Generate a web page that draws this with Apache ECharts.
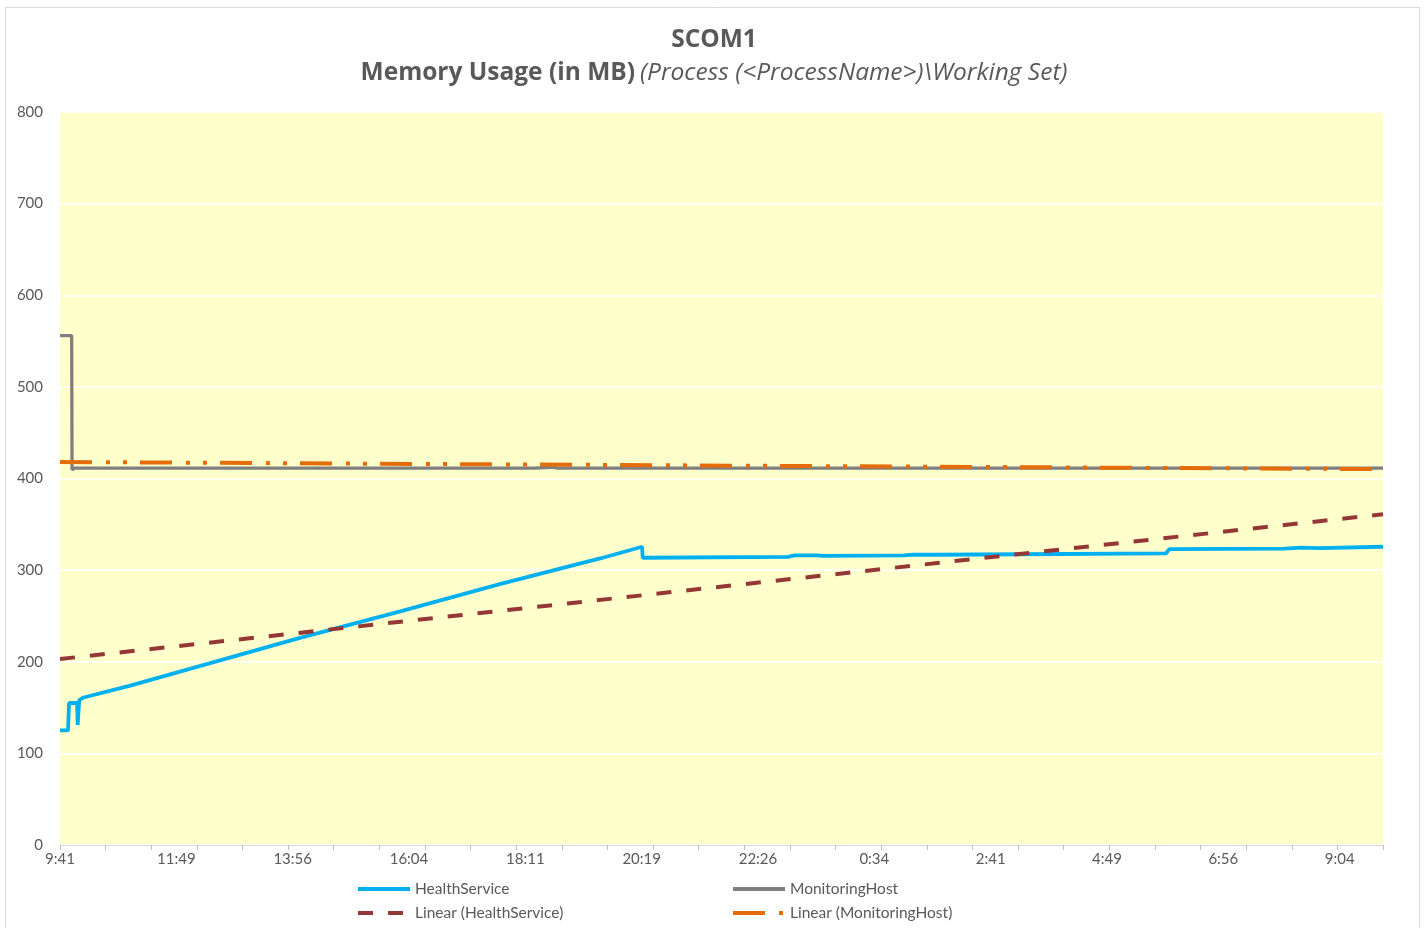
<!DOCTYPE html>
<html><head><meta charset="utf-8">
<script src="https://cdn.jsdelivr.net/npm/echarts@6/dist/echarts.min.js"></script>
<style>html,body{margin:0;padding:0;background:#fff}#c{width:1428px;height:928px}</style>
</head><body><div id="c"></div>
<script>
// x values are minutes elapsed since 9:41
const xTickLabels = ['9:41','11:49','13:56','16:04','18:11','20:19','22:26','0:34','2:41','4:49','6:56','9:04'];
const xLabelStep = 127.5;   // minutes between tick labels
const xTickStep = 50;       // minutes between tick marks
const xMax = 1450;

const hsMinutes = [0, 8.8, 9.9, 18.7, 19.4, 20.3, 21.0, 26, 77, 263, 373, 483, 593, 638, 638.6, 798, 805, 830, 836, 925, 935, 960, 1054, 1212, 1216, 1342, 1360, 1380, 1450];
const hsValues  = [125, 125, 155, 155, 131, 131, 158, 161, 174, 226, 255, 285, 313, 325.5, 313.5, 314.5, 316, 316, 315.5, 316, 317, 316.8, 317.3, 318.2, 323, 323.5, 324.5, 324, 325.5];

const mhMinutes = [0, 12.8, 13.2, 16, 520, 540, 545, 1450];
const mhValues  = [556, 556, 409.5, 411.3, 411.3, 412.3, 411.3, 411.3];

const hsTrendMinutes = [0, 1450];
const hsTrendValues  = [203, 361];
const mhTrendMinutes = [0, 1450];
const mhTrendValues  = [418, 410.2];

const zip = (a, b) => a.map((v, i) => [v, b[i]]);
const FONT = 'Lato, "Open Sans", sans-serif';
const TFONT = '"Open Sans", Lato, sans-serif';
const TXT = '#595959';

const legendBase = {orient: 'vertical', itemWidth: 52, itemHeight: 14, itemGap: 8, padding: 0,
  itemStyle: {opacity: 0}, lineStyle: {width: 4},
  textStyle: {fontFamily: FONT, fontSize: 15.5, color: TXT}};

const chart = echarts.init(document.getElementById('c'), null, {renderer: 'canvas'});
chart.setOption({
  backgroundColor: '#ffffff',
  animation: false,
  graphic: [{
    type: 'rect', shape: {x: 5.5, y: 7.5, width: 1414, height: 940},
    style: {fill: 'none', stroke: '#d9d9d9', lineWidth: 1}, silent: true
  }],
  title: [
    {text: 'SCOM1', left: 'center', top: 23,
     textStyle: {fontFamily: TFONT, fontSize: 24.5, fontWeight: 'bold', color: TXT}},
    {text: '{b|Memory Usage (in MB)} {i|(Process (<ProcessName>)\\Working Set)}', left: 'center', top: 56,
     textStyle: {rich: {
       b: {fontFamily: TFONT, fontSize: 24.5, fontWeight: 'bold', color: TXT},
       i: {fontFamily: TFONT, fontSize: 24.5, fontStyle: 'italic', fontWeight: 'normal', color: TXT}
     }}}
  ],
  legend: [
    Object.assign({left: 356, top: 881, data: ['HealthService', 'Linear (HealthService)']}, legendBase),
    Object.assign({left: 731, top: 881, data: ['MonitoringHost', 'Linear (MonitoringHost)']}, legendBase)
  ],
  grid: {left: 60, right: 45, top: 112, bottom: 83, show: true, backgroundColor: '#FFFFCC', borderWidth: 0},
  xAxis: [
    {type: 'value', min: 0, max: xMax, interval: xTickStep, position: 'bottom',
     axisLine: {show: true, lineStyle: {color: '#d9d9d9', width: 1}},
     axisTick: {show: true, length: 5, lineStyle: {color: '#bfbfbf'}},
     axisLabel: {show: false}, splitLine: {show: false}},
    {type: 'value', min: 0, max: xMax, interval: xLabelStep, position: 'bottom',
     axisLine: {show: false}, axisTick: {show: false}, splitLine: {show: false},
     axisLabel: {show: true, margin: 7, showMaxLabel: false, fontFamily: FONT, fontSize: 15, color: TXT,
       formatter: v => {
         const i = Math.round(v / xLabelStep);
         return Math.abs(v - i * xLabelStep) < 0.01 && xTickLabels[i] ? xTickLabels[i] : '';
       }}}
  ],
  yAxis: {type: 'value', min: 0, max: 800, interval: 100,
    axisLine: {show: false}, axisTick: {show: false},
    splitLine: {show: true, lineStyle: {color: '#ffffff', width: 1.5}},
    axisLabel: {margin: 17, fontFamily: FONT, fontSize: 15, color: TXT}},
  series: [
    {name: 'HealthService', type: 'line', xAxisIndex: 0, symbol: 'none', data: zip(hsMinutes, hsValues),
     lineStyle: {color: '#00B0F0', width: 3.8}, itemStyle: {color: '#00B0F0'}},
    {name: 'MonitoringHost', type: 'line', xAxisIndex: 0, symbol: 'none', data: zip(mhMinutes, mhValues),
     lineStyle: {color: '#7F7F7F', width: 3.3}, itemStyle: {color: '#7F7F7F'}},
    {name: 'Linear (HealthService)', type: 'line', xAxisIndex: 0, symbol: 'none', data: zip(hsTrendMinutes, hsTrendValues),
     lineStyle: {color: '#953735', width: 4, type: [15, 15]}, itemStyle: {color: '#953735'}},
    {name: 'Linear (MonitoringHost)', type: 'line', xAxisIndex: 0, symbol: 'none', data: zip(mhTrendMinutes, mhTrendValues),
     lineStyle: {color: '#E46C0A', width: 4, type: [32, 14, 4, 13, 4, 13]}, itemStyle: {color: '#E46C0A'}}
  ]
});
</script></body></html>
